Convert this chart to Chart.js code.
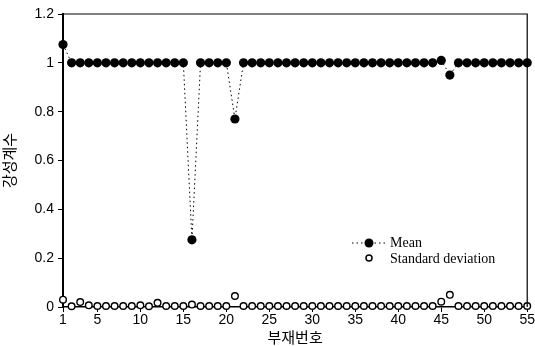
<!DOCTYPE html>
<html>
<head>
<meta charset="utf-8">
<script src="https://cdn.jsdelivr.net/npm/chart.js@4.4.1/dist/chart.umd.min.js"></script>
<style>
  html, body { margin: 0; padding: 0; background: #fff; }
  #wrap { width: 535px; height: 346px; }
</style>
</head>
<body>
<div id="wrap"><canvas id="myChart" width="535" height="346"></canvas></div>
<script>
// member numbers 1..55
var members = [];
for (var i = 1; i <= 55; i++) members.push(i);

var meanValues = [
  1.075, 1.0, 1.0, 1.0, 1.0, 1.0, 1.0, 1.0, 1.0, 1.0,
  1.0, 1.0, 1.0, 1.0, 1.0, 0.275, 1.0, 1.0, 1.0, 1.0,
  0.77, 1.0, 1.0, 1.0, 1.0, 1.0, 1.0, 1.0, 1.0, 1.0,
  1.0, 1.0, 1.0, 1.0, 1.0, 1.0, 1.0, 1.0, 1.0, 1.0,
  1.0, 1.0, 1.0, 1.0, 1.01, 0.95, 1.0, 1.0, 1.0, 1.0,
  1.0, 1.0, 1.0, 1.0, 1.0
];
var stdValues = [
  0.03, 0.003, 0.02, 0.007, 0.004, 0.004, 0.004, 0.004, 0.004, 0.007,
  0.003, 0.017, 0.004, 0.004, 0.004, 0.01, 0.004, 0.004, 0.004, 0.004,
  0.045, 0.004, 0.004, 0.004, 0.004, 0.004, 0.004, 0.004, 0.004, 0.004,
  0.004, 0.004, 0.004, 0.004, 0.004, 0.004, 0.004, 0.004, 0.004, 0.004,
  0.004, 0.004, 0.004, 0.004, 0.022, 0.05, 0.004, 0.004, 0.004, 0.004,
  0.004, 0.004, 0.004, 0.004, 0.004
];
var xTicks = [1, 5, 10, 15, 20, 25, 30, 35, 40, 45, 50, 55];
var yTicks = [0, 0.2, 0.4, 0.6, 0.8, 1, 1.2];
var seriesNames = ["Mean", "Standard deviation"];

function pts(vals){
  return members.map(function(m, k){ return { x: m, y: vals[k] }; });
}

var tickFont = { family: "'Liberation Sans Narrow', 'Liberation Sans', Arial, sans-serif", size: 14 };
var serif = "'Liberation Serif', 'DejaVu Serif', serif";

// top/right frame + legend drawn inside plot
var framePlugin = {
  id: "frame",
  afterDraw: function(chart){
    var ctx = chart.ctx, a = chart.chartArea;
    ctx.save();
    ctx.strokeStyle = "#000";
    ctx.lineWidth = 1.2;
    ctx.beginPath();
    ctx.moveTo(a.left, a.top);
    ctx.lineTo(a.right, a.top);
    ctx.lineTo(a.right, a.bottom);
    ctx.stroke();

    // legend
    ctx.lineWidth = 1;
    ctx.setLineDash([1.5, 3]);
    ctx.beginPath();
    ctx.moveTo(352, 243);
    ctx.lineTo(386, 243);
    ctx.stroke();
    ctx.setLineDash([]);
    ctx.fillStyle = "#000";
    ctx.beginPath();
    ctx.arc(369, 243, 4.5, 0, Math.PI * 2);
    ctx.fill();
    ctx.lineWidth = 1.5;
    ctx.fillStyle = "#fff";
    ctx.beginPath();
    ctx.arc(369, 258, 3, 0, Math.PI * 2);
    ctx.fill();
    ctx.stroke();
    ctx.fillStyle = "#000";
    ctx.font = "14px " + serif;
    ctx.textBaseline = "middle";
    ctx.fillText(seriesNames[0], 390, 243);
    ctx.fillText(seriesNames[1], 390, 259);
    ctx.restore();
  }
};

var canvas = document.getElementById("myChart");
var myChart = new Chart(canvas, {
  type: "scatter",
  data: {
    datasets: [{
      label: seriesNames[0],
      data: pts(meanValues),
      showLine: true,
      borderColor: "#000",
      borderWidth: 1,
      borderDash: [1.5, 3],
      pointRadius: 4.6,
      pointBackgroundColor: "#000",
      pointBorderColor: "#000",
      pointBorderWidth: 0,
      order: 1
    }, {
      label: seriesNames[1],
      data: pts(stdValues),
      showLine: false,
      pointRadius: 3.3,
      pointBackgroundColor: "#fff",
      pointBorderColor: "#000",
      pointBorderWidth: 1.4,
      order: 2
    }]
  },
  options: {
    responsive: false,
    animation: false,
    clip: false,
    layout: { padding: { top: 14, right: 7, left: 0, bottom: 0 } },
    plugins: {
      legend: { display: false },
      tooltip: { enabled: false }
    },
    scales: {
      x: {
        type: "linear",
        min: 1,
        max: 55,
        afterBuildTicks: function(scale){
          scale.ticks = xTicks.map(function(v){ return { value: v }; });
        },
        afterFit: function(scale){ scale.height = 39; },
        grid: { display: true, drawOnChartArea: false, drawTicks: true, tickLength: 5, color: "#000", lineWidth: 1 },
        border: { display: true, color: "#000", width: 1.5 },
        ticks: { color: "#000", font: tickFont, padding: 0, maxRotation: 0, autoSkip: false },
        title: {
          display: true,
          text: "부재번호",
          color: "#000",
          font: { family: "'Noto Sans CJK KR', sans-serif", size: 15 },
          padding: { top: 0, bottom: 0 }
        }
      },
      y: {
        min: 0,
        max: 1.2,
        afterBuildTicks: function(scale){
          scale.ticks = yTicks.map(function(v){ return { value: v }; });
        },
        afterFit: function(scale){ scale.width = 63; },
        grid: { display: true, drawOnChartArea: false, drawTicks: true, tickLength: 5, color: "#000", lineWidth: 1 },
        border: { display: true, color: "#000", width: 2 },
        ticks: {
          color: "#000",
          font: tickFont,
          padding: 4,
          callback: function(v){ return String(Number(v.toFixed(1))); }
        },
        title: {
          display: true,
          text: "강성계수",
          color: "#000",
          font: { family: "'Noto Sans CJK KR', sans-serif", size: 15 },
          padding: { top: 0, bottom: 6 }
        }
      }
    }
  },
  plugins: [framePlugin]
});
</script>
</body>
</html>
